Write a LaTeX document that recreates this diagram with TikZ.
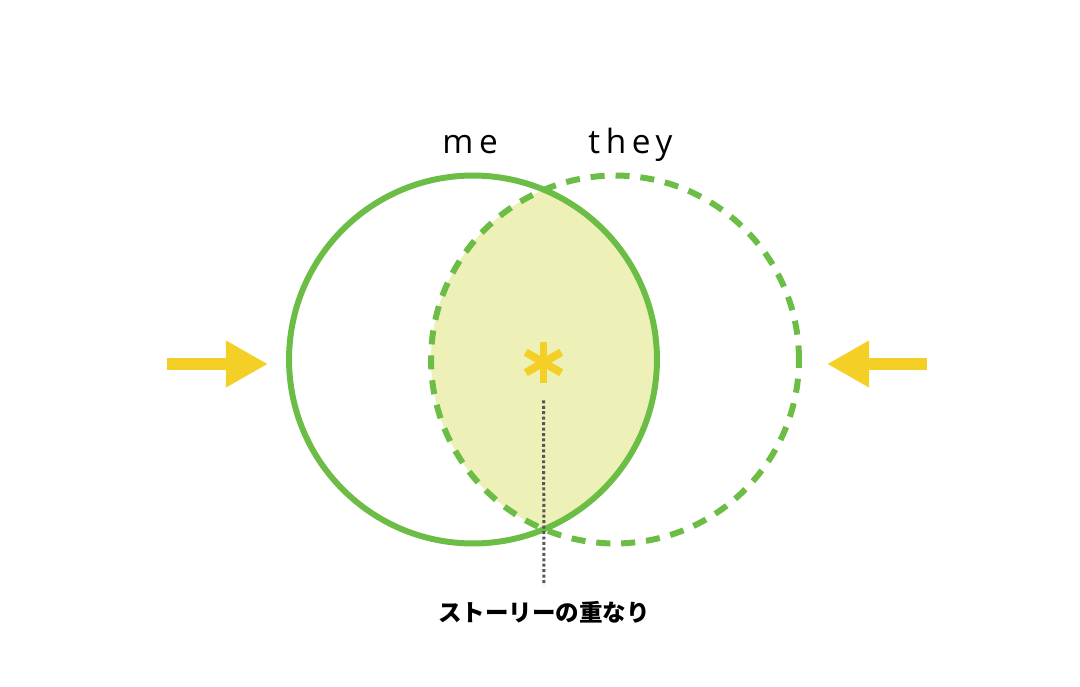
\documentclass[tikz,border=0pt]{standalone}
\usepackage{fontspec}
\setmainfont{Open Sans}
\newfontfamily\jpfont{Noto Sans CJK JP}
\usetikzlibrary{arrows.meta,positioning}

\definecolor{leaf}{RGB}{108,189,69}
\definecolor{lens}{RGB}{237,241,183}
\definecolor{sun}{RGB}{244,208,38}
\definecolor{ink}{RGB}{85,85,92}

\begin{document}
\begin{tikzpicture}[x=0.02cm,y=-0.02cm,
    set/.style={circle,inner sep=0pt,outer sep=0pt,minimum size=7.36cm,line width=3.4pt,draw=leaf},
    push/.style={draw=sun,line width=6.8pt,-{Triangle[width=25pt,length=24pt]}},
    who/.style={inner sep=0pt,anchor=base west,font=\fontsize{19}{19}\selectfont\addfontfeature{LetterSpace=17}},
    leader/.style={draw=ink,line width=1.7pt,dash pattern=on 1.7pt off 1.4pt}]
    \useasboundingbox (0,0) rectangle (1080,687);

    % Centres of the sets
    \coordinate (cme) at (473,359.5);
    \coordinate (cthey) at (615,359.5);

    % Shade the overlap
    \begin{scope}
        \clip (cme) circle (184);
        \fill[lens] (cthey) circle (184);
    \end{scope}

    % Draw the sets
    \node[set,dash pattern=on 8pt off 6.2pt] (they) at (cthey) {};
    \node[set] (me) at (cme) {};

    % Labels for the sets
    \node[who] (mel) at (442,153) {me};
    \node[who] (theyl) at (588,153) {they};

    % The asterisk
    \node[inner sep=0pt,minimum size=0.82cm] (star) at (543.5,362.5) {};
    \foreach \a in {90,210,330}
        \draw[sun,line width=4.5pt] ([shift=(\a:0.41cm)]star.center) -- ([shift=(\a+180:0.41cm)]star.center);

    % Label of the overlap
    \node[inner sep=0pt] (story) at (544,612) {\jpfont\fontsize{13.4}{13.4}\selectfont\bfseries ストーリーの重なり};
    \draw[leader,shorten <=0.34cm,shorten >=0.3cm] (star.south) -- (story.north);

    % Draw the arrows
    \coordinate (ltail) at (167,364);
    \coordinate (rtail) at (927,364);
    \draw[push] (ltail) -- ([xshift=-0.42cm]me.west |- ltail);
    \draw[push] (rtail) -- ([xshift=0.56cm]they.east |- rtail);
\end{tikzpicture}
\end{document}
